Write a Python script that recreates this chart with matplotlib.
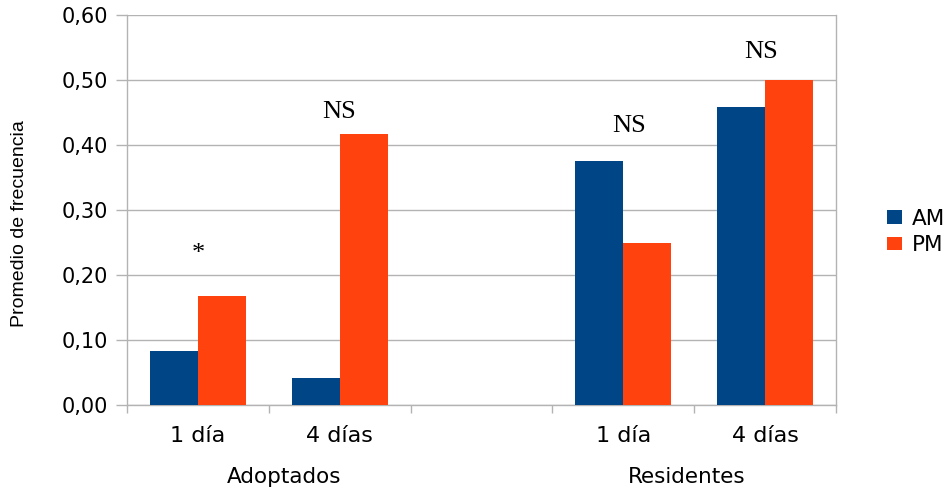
import matplotlib
matplotlib.use("Agg")
import matplotlib.pyplot as plt
import numpy as np

plt.rcParams['font.family'] = ['DejaVu Sans']

categories = ["1 día", "4 días", "", "1 día", "4 días"]
groups = ["Adoptados", "Residentes"]
am = [0.083, 0.042, np.nan, 0.375, 0.458]
pm = [0.167, 0.417, np.nan, 0.250, 0.500]
sig_labels = ["*", "NS", "NS", "NS"]
sig_x = [0.0, 0.995, 3.04, 3.975]
sig_y = [0.2225, 0.442, 0.4205, 0.5334]
yticks = [0.0, 0.1, 0.2, 0.3, 0.4, 0.5, 0.6]

c_am = "#004586"
c_pm = "#ff420e"
grid_c = "#b3b3b3"

W, H = 952, 491
fig = plt.figure(figsize=(W/100, H/100), dpi=100)
ax = fig.add_axes([127/W, 1-405/H, (836-127)/W, (405-15)/H])

x = np.arange(len(categories))
w = 0.338
ax.bar(x - w/2, am, width=w, color=c_am, label="AM", zorder=3)
ax.bar(x + w/2, pm, width=w, color=c_pm, label="PM", zorder=3)

for lab, xx, yy in zip(sig_labels, sig_x, sig_y):
    ax.text(xx, yy, lab, ha="center", va="baseline", fontsize=19,
            family=["Liberation Serif"], color="black", zorder=4)

ax.set_xlim(-0.5, len(categories) - 0.5)
ax.set_ylim(0, 0.6)
ax.set_yticks(yticks)
ax.set_yticklabels([f"{v:.2f}".replace(".", ",") for v in yticks], fontsize=15)
ax.yaxis.grid(True, color=grid_c, linewidth=1, zorder=0)
ax.set_axisbelow(True)

ax.set_xticks(np.arange(-0.5, len(categories)))
ax.set_xticklabels([])
ax.tick_params(axis="x", length=6, color=grid_c, width=1)
ax.tick_params(axis="y", length=8, color=grid_c, width=1, pad=5.8)
for i, c in enumerate(categories):
    ax.text(x[i], -0.0569, c, ha="center", va="baseline", fontsize=16)

group_x = [0.61, 3.45]
for g, gx in zip(groups, group_x):
    ax.text(gx, -0.12, g, ha="center", va="baseline", fontsize=15.5)

for s in ["left", "bottom", "right"]:
    ax.spines[s].set_color(grid_c)
    ax.spines[s].set_linewidth(1)
ax.spines["top"].set_visible(False)

fig.text(19.5/W, 1-224/H, "Promedio de frecuencia", rotation=90,
         ha="center", va="center", fontsize=14, family=["Liberation Sans"])

leg = ax.legend(loc="center left", bbox_to_anchor=(887/W, 1-232/H),
                bbox_transform=fig.transFigure, frameon=False,
                fontsize=15.5, handlelength=0.7, handleheight=0.6,
                handletextpad=0.47, labelspacing=0.3, borderpad=0,
                borderaxespad=0)

fig.savefig("out.png", dpi=100)
